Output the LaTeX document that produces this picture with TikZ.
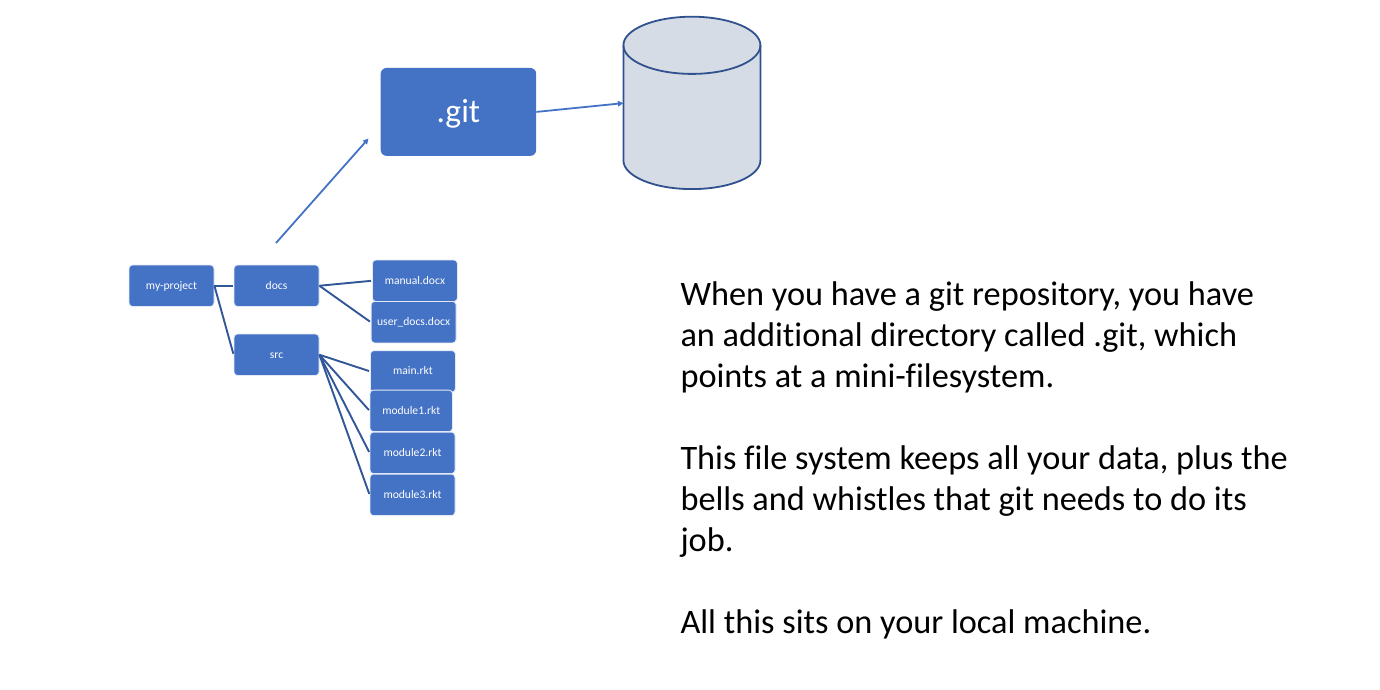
\documentclass[tikz,border=0pt]{standalone}
\usepackage{fontspec}
\setmainfont[Ligatures=NoCommon]{Carlito}
\usetikzlibrary{arrows.meta}
\definecolor{boxblue}{HTML}{4472C4}
\definecolor{darkline}{HTML}{2F528F}
\definecolor{cylfill}{HTML}{D6DCE5}
\tikzset{
  filebox/.style={draw=white!85!boxblue,line width=0.8pt,fill=boxblue,rounded corners=3.5pt,text=white,inner sep=0pt,text height=7.5pt,text depth=0.5pt,font=\fontsize{11.6pt}{13pt}\selectfont,anchor=north west},
  treeline/.style={draw=darkline!85!boxblue,line width=1.9pt,shorten >=1pt},
  arrowline/.style={draw=boxblue,line width=1.8pt,-{Triangle[length=5.5pt,width=5.5pt]}},
}
\begin{document}
\begin{tikzpicture}[x=1pt,y=-1pt]
\useasboundingbox (0,0) rectangle (1380,690);
\fill[white] (0,0) rectangle (1380,690);
% git box
\node[fill=boxblue,rounded corners=6pt,text=white,minimum width=155.5pt,minimum height=88pt,inner sep=0pt,text height=21pt,text depth=0pt,anchor=north west,font=\fontsize{33.5pt}{36pt}\selectfont] (git) at (380.5,67.7) {.git};
% cylinder
\node[minimum width=137pt,minimum height=172.5pt,inner sep=0pt,anchor=north west] (store) at (623.4,16.7) {};
\draw[darkline,fill=cylfill,line width=1.8pt]
  (623.4,45.3) -- (623.4,160.4) arc[start angle=180,end angle=360,x radius=68.5,y radius=-28.7]
  -- (760.4,45.3) arc[start angle=0,end angle=180,x radius=68.5,y radius=-28.6] -- cycle;
\draw[darkline,line width=1.8pt] (623.4,45.3) arc[start angle=180,end angle=360,x radius=68.5,y radius=-28.6];
% tree boxes
\node[filebox,minimum width=85pt,minimum height=41.5pt] (myproject) at (128.6,264.6) {my-project};
\node[filebox,minimum width=85pt,minimum height=41.5pt] (docs) at (233.6,264.6) {docs};
\node[filebox,minimum width=85pt,minimum height=41.5pt] (src) at (233.6,333.6) {src};
\node[filebox,minimum width=85pt,minimum height=41.5pt] (manual) at (372,259.6) {manual.docx};
\node[filebox,minimum width=85pt,minimum height=41.5pt] (userdocs) at (370.7,301) {user\_docs.docx};
\node[filebox,minimum width=85pt,minimum height=41.5pt] (mainrkt) at (370,350.2) {main.rkt};
\node[filebox,minimum width=82.5pt,minimum height=41.5pt] (moduleone) at (369.6,389.7) {module1.rkt};
\node[filebox,minimum width=85pt,minimum height=41.5pt] (moduletwo) at (369.6,431.7) {module2.rkt};
\node[filebox,minimum width=85pt,minimum height=41.5pt] (modulethree) at (369.6,473.7) {module3.rkt};
% connectors
\draw[treeline] (myproject.east) -- (docs.west);
\draw[treeline] (myproject.east) -- (src.west);
\draw[treeline] (docs.east) -- (manual.west);
\draw[treeline] (docs.east) -- (userdocs.west);
\draw[treeline] (src.east) -- (mainrkt.west);
\draw[treeline] (src.east) -- (moduleone.west);
\draw[treeline] (src.east) -- (moduletwo.west);
\draw[treeline] (src.east) -- (modulethree.west);
% arrows
\coordinate (treefrom) at (276,243);
\coordinate (gitto) at (368.5,138.5);
\draw[arrowline] (treefrom) -- (gitto);
\draw[arrowline] (git.east) -- (store.west);
% text
\node[anchor=north west,inner sep=0pt,align=left,font=\fontsize{34.3pt}{41pt}\selectfont,text=black] (caption) at (680.3,281.5) {When you have a git repository, you have\\
an additional directory called .git, which\\
points at a mini-filesystem.\\
\strut\\
This file system keeps all your data, plus the\\
bells and whistles that git needs to do its\\
job.\\
\strut\\
All this sits on your local machine.};
\end{tikzpicture}
\end{document}
